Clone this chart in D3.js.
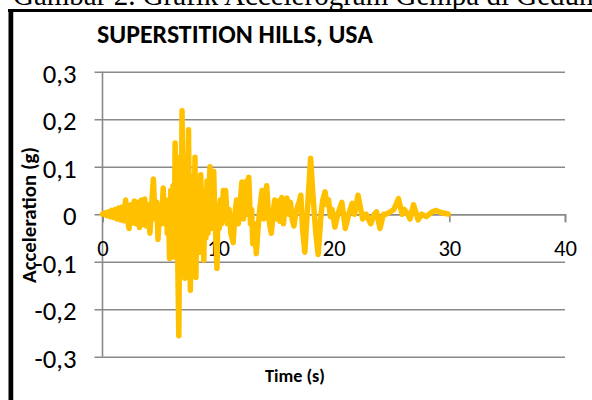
<!DOCTYPE html>
<html>
<head>
<meta charset="utf-8">
<script src="https://cdn.jsdelivr.net/npm/d3@7/dist/d3.min.js"></script>
<style>
  html, body { margin: 0; padding: 0; background: #fff; }
  svg { display: block; }
</style>
</head>
<body>
<svg id="chart" width="592" height="400"></svg>
<script>
// Superstition Hills ground-motion record: time (s) and acceleration (g)
const timeS = [
  0, 0.2, 0.35, 0.5, 0.65, 0.8, 0.95, 1.1, 1.25, 1.4, 1.55, 1.7, 1.85, 2.0, 2.15, 2.3, 2.45, 2.6, 2.75, 2.9,
  3.05, 3.2, 3.35, 3.5, 3.65, 3.8, 3.95, 4.1, 4.25, 4.4, 4.55, 4.7, 4.8, 4.95, 5.1, 5.25, 5.4,
  5.5, 5.6, 5.7, 5.8, 5.9, 6.0, 6.1, 6.2, 6.28, 6.36, 6.44, 6.52, 6.6, 6.7, 6.78, 6.88, 6.96,
  7.04, 7.12, 7.2, 7.28, 7.36, 7.44, 7.52, 7.6, 7.68, 7.76, 7.84, 7.92, 8.0, 8.08, 8.16, 8.24, 8.32, 8.4,
  8.5, 8.58, 8.66, 8.76, 8.86, 8.94, 9.04, 9.12, 9.2, 9.3, 9.38, 9.46, 9.54, 9.62, 9.7, 9.8, 9.9,
  10.0, 10.1, 10.2, 10.3, 10.45, 10.55, 10.65, 10.8, 10.95, 11.1,
  11.3, 11.45, 11.6, 11.75, 11.9, 12.05, 12.2, 12.35, 12.45, 12.55,
  12.65, 12.8, 12.9, 13.0, 13.15, 13.3, 13.45, 13.6, 13.8, 13.95,
  14.05, 14.2, 14.35, 14.45, 14.6, 14.75, 14.9, 15.05, 15.2, 15.35,
  15.5, 15.65, 15.8, 15.95, 16.1, 16.25, 16.4, 16.55, 16.7, 16.85,
  17.0, 17.15, 17.3, 17.5, 17.75, 18.0, 18.2, 18.45, 18.65, 18.9,
  19.05, 19.25, 19.4, 19.55, 19.7, 19.85,
  20.1, 20.35, 20.7, 21.0, 21.3, 21.6, 21.8, 22.1, 22.5, 22.8, 23.2, 23.5, 23.7, 24.0, 24.3, 24.5,
  24.9, 25.2, 25.6, 25.9, 26.1, 26.4, 26.6, 26.9, 27.3, 27.6, 28.0, 28.4, 28.8, 29.2, 29.6, 29.9
];
const accelG = [
  0, 0.003, -0.003, 0.005, -0.005, 0.008, -0.007, 0.01, -0.01, 0.013, -0.012, 0.015, -0.014, 0.03, -0.01, -0.03, 0.02, -0.018, 0.028, -0.02,
  0.025, -0.028, 0.03, -0.022, 0.032, -0.025, 0.02, -0.04, 0.02, 0.074, -0.01, 0.025, -0.053, 0.015, -0.02, 0.055, -0.02,
  0.03, -0.04, 0.02, -0.093, 0.05, -0.07, 0.06, -0.09, 0.15, -0.03, 0.12, -0.12, -0.256, 0.08, -0.1, 0.218, -0.04,
  0.1, -0.135, 0.06, -0.08, 0.09, 0.178, -0.05, -0.16, 0.04, -0.07, 0.08, -0.04, 0.12, -0.133, 0.03, -0.06, 0.07, -0.08,
  0.083, -0.03, 0.05, -0.097, 0.04, -0.05, 0.07, -0.04, 0.05, 0.1, -0.03, 0.06, -0.02, 0.09, 0.01, -0.05, -0.114,
  0.02, -0.03, 0.03, -0.02, 0.05, -0.01, 0.05, -0.02, 0.01, -0.04,
  -0.06, 0.0, 0.03, -0.02, 0.02, 0.068, -0.01, 0.04, 0.07, 0.0,
  0.078, -0.02, 0.01, -0.062, -0.02, -0.083, -0.03, 0.01, 0.05, -0.01,
  0.03, 0.06, 0.0, -0.02, -0.04, 0.0, 0.03, -0.01, 0.028, -0.015,
  0.035, -0.02, 0.025, 0.034, 0.0, 0.025, -0.01, -0.025, 0.0, 0.015,
  0.025, 0.04, -0.03, -0.08, 0.02, 0.118, 0.04, -0.04, -0.085, 0.0,
  0.03, 0.047, 0.02, 0.03, -0.005, 0.01,
  -0.027, 0.0, 0.025, -0.03, 0.0, 0.023, 0.0, 0.04, -0.01, 0.0, -0.02, 0.0, 0.005, -0.03, 0.0, 0.0,
  0.005, 0.01, 0.033, 0.0, 0.01, 0.0, -0.01, 0.02, -0.012, 0.0, -0.005, 0.003, 0.008, 0.004, 0.002, 0.0
];

const xTickValues = [0, 10, 20, 30, 40];
const yTickValues = [0.3, 0.2, 0.1, 0, -0.1, -0.2, -0.3];
const yTickLabels = ["0,3", "0,2", "0,1", "0", "-0,1", "-0,2", "-0,3"];

const chartTitle = "SUPERSTITION HILLS, USA";
const xTitle = "Time (s)";
const yTitle = "Acceleration (g)";
const captionText = "Gambar 2. Grafik Accelerogram Gempa di Gedung";

const svg = d3.select("#chart");
const W = 592, H = 400;
const font = "Carlito, Lato, 'Open Sans', sans-serif";
const gridColor = "#898989";
const lineColor = "#FFC000";

svg.append("rect").attr("width", W).attr("height", H).attr("fill", "#fff");

// scale a text node's font size so it spans the given width
function fitWidth(sel, target) {
  const size = parseFloat(sel.attr("font-size"));
  const w = sel.node().getComputedTextLength();
  if (w > 0) sel.attr("font-size", size * target / w);
  return sel;
}

// page caption above the frame (runs off the top edge of the page)
svg.append("text")
  .attr("x", 13).attr("y", 4.5)
  .attr("font-family", "'Liberation Serif', 'Times New Roman', serif")
  .attr("font-size", 29)
  .attr("fill", "#000")
  .text(captionText);

// chart frame
svg.append("line").attr("x1", 8).attr("x2", W).attr("y1", 10.5).attr("y2", 10.5)
  .attr("stroke", "#000").attr("stroke-width", 3);
svg.append("line").attr("x1", 11).attr("x2", 11).attr("y1", 9).attr("y2", H)
  .attr("stroke", "#000").attr("stroke-width", 5);
svg.append("rect").attr("x", 13.5).attr("y", 12).attr("width", W - 13.5).attr("height", H - 12).attr("fill", "#fff");

const x = d3.scaleLinear().domain([0, 40]).range([102.5, 565]);
const y = d3.scaleLinear().domain([-0.3, 0.3]).range([356.7, 71.7]);

// horizontal gridlines (extending a little left of the value axis)
const gridG = svg.append("g")
  .attr("transform", `translate(${x(0) - 8},0)`)
  .call(d3.axisRight(y).tickValues(yTickValues).tickSize(x(40) - x(0) + 8).tickFormat(""));
gridG.select(".domain").remove();
gridG.selectAll(".tick line").attr("stroke", gridColor).attr("stroke-width", 1.6);

// value axis labels
const yLab = svg.append("g")
  .attr("transform", `translate(${x(0) - 8},0)`)
  .call(d3.axisLeft(y).tickValues(yTickValues).tickSize(0).tickPadding(18)
    .tickFormat((d, i) => yTickLabels[i]));
yLab.select(".domain").remove();
yLab.selectAll("text").attr("font-family", font).attr("font-size", 22).attr("fill", "#000");
{
  const probe = yLab.selectAll("text").filter((d, i) => yTickLabels[i] === "-0,1");
  fitWidth(probe, 42);
  const fs = probe.attr("font-size");
  yLab.selectAll("text").attr("font-size", fs).attr("dy", "0.4em");
}

// vertical value axis line
svg.append("line")
  .attr("x1", x(0)).attr("x2", x(0)).attr("y1", y(0.3)).attr("y2", y(-0.3))
  .attr("stroke", gridColor).attr("stroke-width", 1.6);

// time axis through zero
const xAx = svg.append("g")
  .attr("transform", `translate(0,${y(0)})`)
  .call(d3.axisBottom(x).tickValues(xTickValues).tickSize(8).tickPadding(18));
xAx.select(".domain").attr("stroke", gridColor).attr("stroke-width", 1.6);
xAx.selectAll(".tick line").attr("stroke", gridColor).attr("stroke-width", 1.6);
xAx.selectAll("text").attr("font-family", font).attr("font-size", 22).attr("fill", "#000");
{
  const probe = xAx.selectAll("text").filter(d => d === 10);
  fitWidth(probe, 23);
  xAx.selectAll("text").attr("font-size", probe.attr("font-size"));
}

// acceleration trace
const pts = timeS.map((t, i) => [t, accelG[i]]);
svg.append("path")
  .datum(pts)
  .attr("fill", "none")
  .attr("stroke", lineColor)
  .attr("stroke-width", 5.5)
  .attr("stroke-linejoin", "round")
  .attr("stroke-linecap", "round")
  .attr("d", d3.line().x(d => x(d[0])).y(d => y(d[1])));

// titles
const title = svg.append("text")
  .attr("x", 235).attr("y", 43)
  .attr("text-anchor", "middle")
  .attr("font-family", font).attr("font-weight", "bold").attr("font-size", 22)
  .attr("fill", "#000")
  .text(chartTitle);
fitWidth(title, 276);

const xt = svg.append("text")
  .attr("x", 295).attr("y", 382)
  .attr("text-anchor", "middle")
  .attr("font-family", font).attr("font-weight", "bold").attr("font-size", 15)
  .attr("fill", "#000")
  .text(xTitle);
fitWidth(xt, 60);

const yt = svg.append("text")
  .attr("transform", `translate(36,215) rotate(-90)`)
  .attr("text-anchor", "middle")
  .attr("font-family", font).attr("font-weight", "bold").attr("font-size", 15)
  .attr("fill", "#000")
  .text(yTitle);
fitWidth(yt, 136);
</script>
</body>
</html>
